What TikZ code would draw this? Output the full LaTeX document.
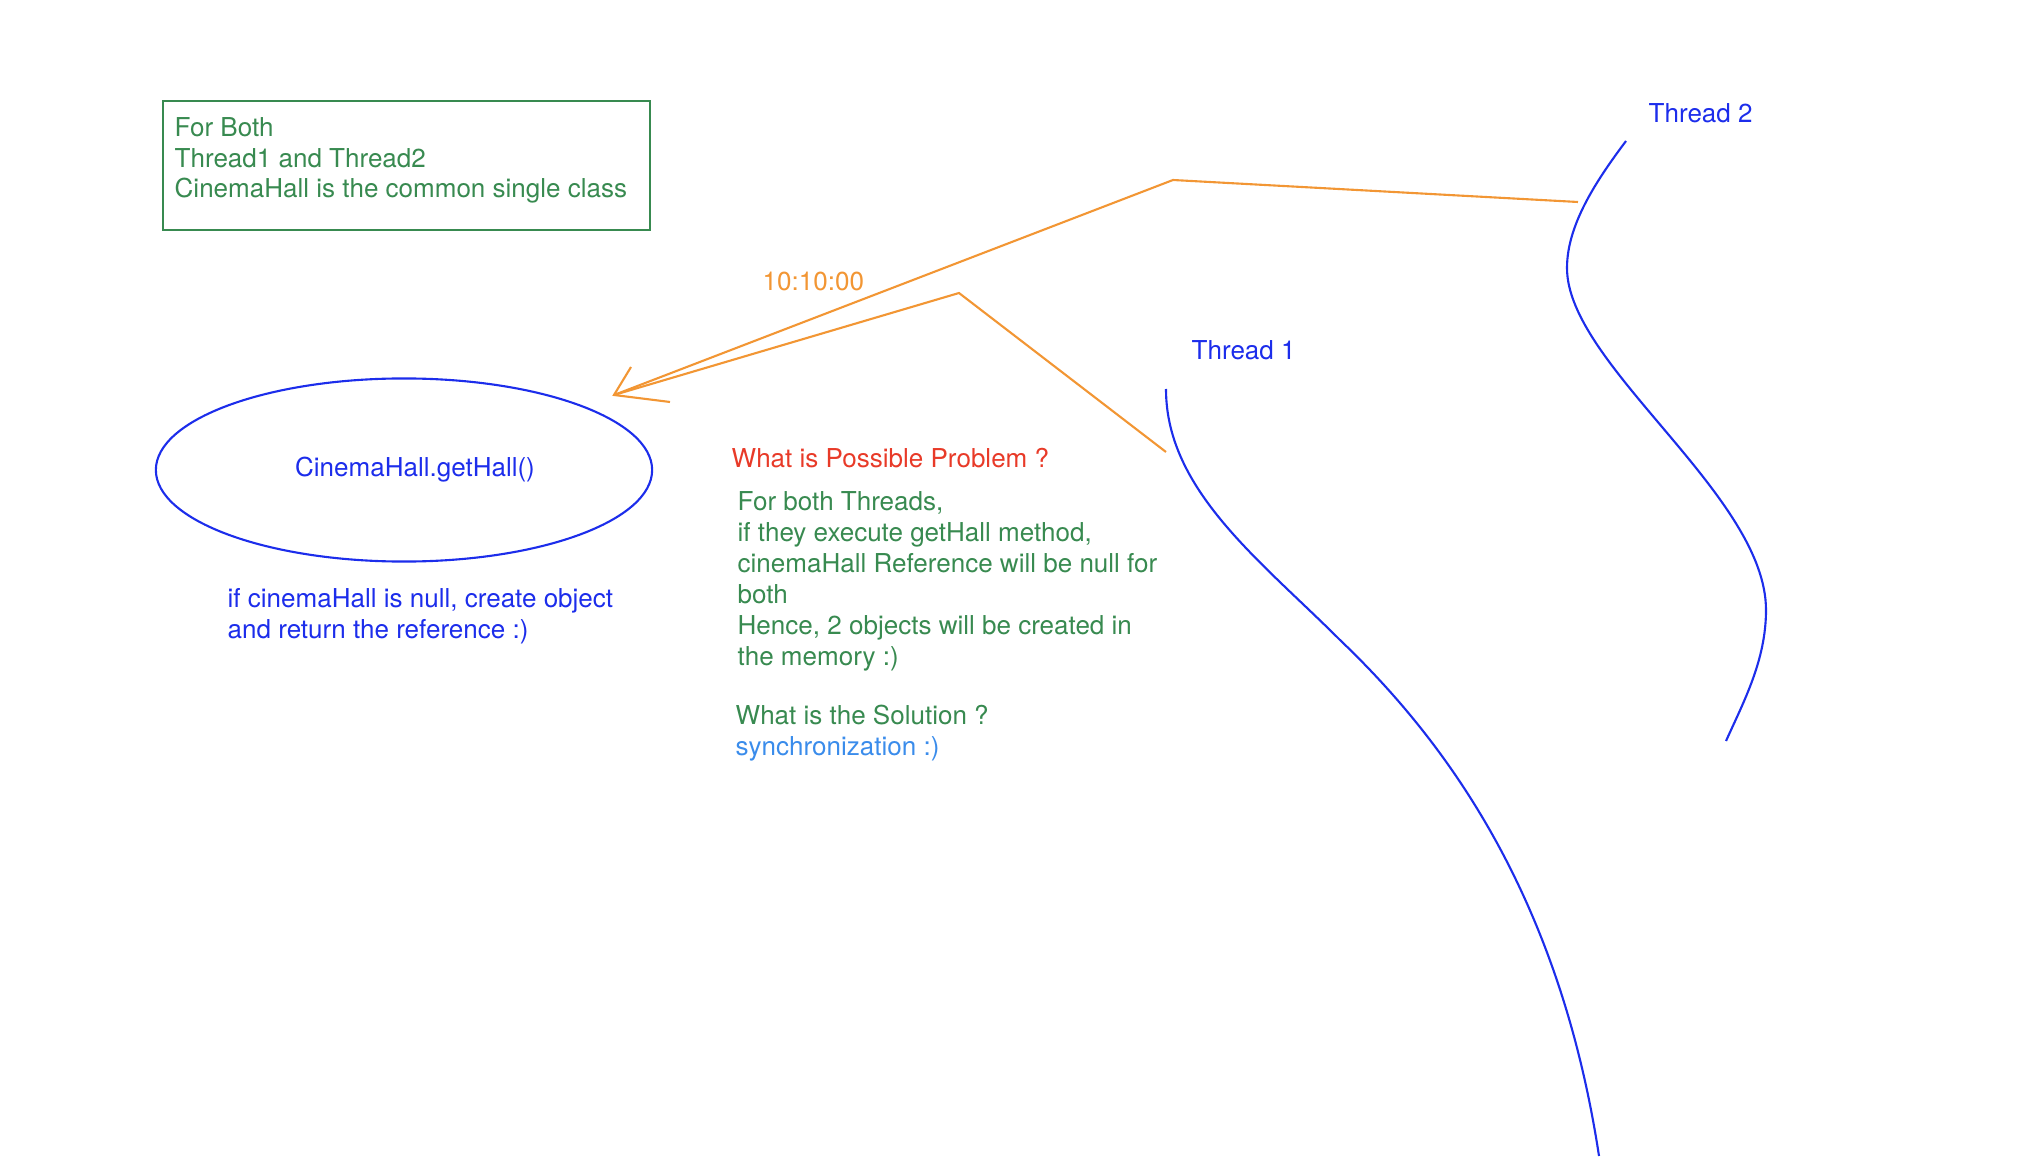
\documentclass[tikz,border=0pt]{standalone}
\usepackage{fontspec}
\setmainfont{TeX Gyre Heros}
\usetikzlibrary{shapes.geometric}
\definecolor{notegreen}{RGB}{56,138,80}
\definecolor{threadblue}{RGB}{28,45,235}
\definecolor{warnorange}{RGB}{242,150,52}
\definecolor{probred}{RGB}{232,58,40}
\definecolor{solblue}{RGB}{58,140,235}
\tikzset{
  txt/.style={inner sep=0pt, anchor=base west, align=left, font=\fontsize{7.4}{8.8}\selectfont},
  pen/.style={line width=0.6pt},
}
\begin{document}
\begin{tikzpicture}[x=0.01cm,y=-0.01cm]
\useasboundingbox (0,0) rectangle (2032,1176);

% note box (multi-line texts sit on their last baseline)
\node (notebox) [draw=notegreen, pen, anchor=north west, inner sep=0pt, minimum width=4.87cm, minimum height=1.29cm] at (162,100) {};
\node (notetext) [txt, notegreen] at (174,198) {For Both\\Thread1 and Thread2\\CinemaHall is the common single class};

% the getHall call
\node (hall) [ellipse, draw=threadblue, pen, inner sep=0pt, minimum width=4.96cm, minimum height=1.83cm] at (404,470) {};
\node (hallname) [txt, threadblue, anchor=base] at (415,476) {CinemaHall.getHall()};
\node (hallnote) [txt, threadblue] at (227,638) {if cinemaHall is null, create object\\and return the reference :)};

% threads
\node (t1label) [txt, threadblue] at (1191,360) {Thread 1};
\node (t2label) [txt, threadblue] at (1648,123) {Thread 2};
\coordinate (t1top) at (1166,389);
\coordinate (t1bot) at (1599,1156);
\coordinate (t2top) at (1626,141);
\coordinate (t2bot) at (1726,741);
\draw[threadblue, pen] (t1top) .. controls (1166,490) and (1260,560) .. (1340,640)
  .. controls (1450,745) and (1560,900) .. (t1bot);
\draw[threadblue, pen] (t2top) .. controls (1596,181) and (1567,225) .. (1567,268)
  .. controls (1567,365) and (1766,495) .. (1766,610)
  .. controls (1766,660) and (1744,701) .. (t2bot);

% both calls reach getHall at the same time
\coordinate (tip) at (614,395);
\coordinate (kinkA) at (1173,180);
\coordinate (kinkB) at (959,293);
\coordinate (fromT2) at (1578,202);
\coordinate (fromT1) at (1166,452);
\coordinate (headA) at (631,367);
\coordinate (headB) at (670,402);
\draw[warnorange, pen] (fromT2) -- (kinkA) -- (tip);
\draw[warnorange, pen] (fromT1) -- (kinkB) -- (tip);
\draw[warnorange, pen] (headA) -- (tip) -- (headB);
\node (time) [txt, warnorange] at (762,291) {10:10:00};

% problem and solution
\node (problem) [txt, probred] at (731,468) {What is Possible Problem ?};
\node (reason) [txt, notegreen] at (737,665) {For both Threads,\\if they execute getHall method,\\cinemaHall Reference will be null for\\both\\Hence, 2 objects will be created in\\the memory :)};
\node (solution) [txt, notegreen] at (735,755) {What is the Solution ?\\\textcolor{solblue}{synchronization :)}};
\end{tikzpicture}
\end{document}
